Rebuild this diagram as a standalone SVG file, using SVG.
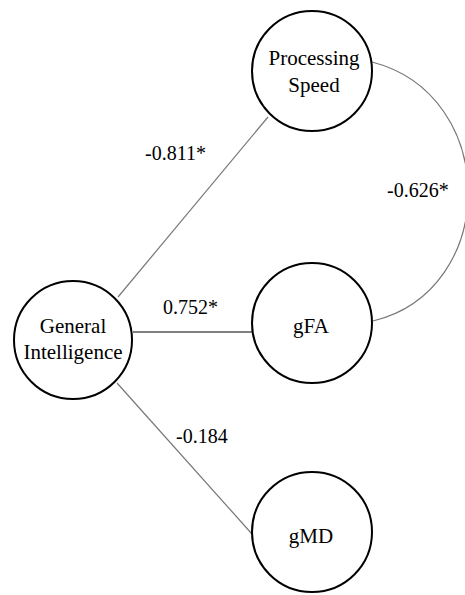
<svg xmlns="http://www.w3.org/2000/svg" width="465" height="595" viewBox="0 0 465 595">
  <style>
    .node { fill: #ffffff; stroke: #000000; stroke-width: 2; }
    .label { font-size: 21px; fill: #000000; text-anchor: middle; }
    .coef { font-size: 20px; fill: #000000; }
    .path { fill: none; stroke: #777777; stroke-width: 1.2; }
    .path.dark { stroke: #000000; stroke-width: 1.2; }
  </style>
  <rect width="465" height="595" fill="#ffffff"/>

  <g font-family="'Liberation Serif', 'DejaVu Serif', serif">
    <!-- loadings and the residual covariance -->
    <g id="connectors">
      <line class="path" x1="118" y1="297" x2="268" y2="117"/>
      <line class="path dark" x1="133" y1="332" x2="252" y2="332"/>
      <line class="path" x1="117" y1="383" x2="252" y2="534"/>
      <path class="path" d="M372,62 C500,95 500,290 373,321"/>
      <text class="coef" x="145" y="160">-0.811*</text>
      <text class="coef" x="163" y="314">0.752*</text>
      <text class="coef" x="176" y="443">-0.184</text>
      <text class="coef" x="387" y="197">-0.626*</text>
    </g>

    <g id="processing-speed">
      <circle class="node" cx="312" cy="71" r="60"/>
      <text class="label" x="314" y="65">Processing</text>
      <text class="label" x="314" y="92">Speed</text>
    </g>

    <g id="general-intelligence">
      <circle class="node" cx="73" cy="340" r="59"/>
      <text class="label" x="73" y="333">General</text>
      <text class="label" x="73" y="359">Intelligence</text>
    </g>

    <g id="gfa">
      <circle class="node" cx="312" cy="323" r="60"/>
      <text class="label" x="311" y="333">gFA</text>
    </g>

    <g id="gmd">
      <circle class="node" cx="312" cy="532" r="60"/>
      <text class="label" x="311" y="543">gMD</text>
    </g>
  </g>
</svg>
